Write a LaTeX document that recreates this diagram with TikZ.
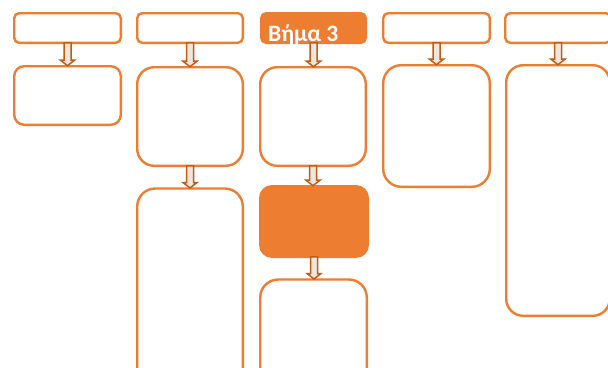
\documentclass[tikz,border=0pt]{standalone}
\usepackage{fontspec}
\newfontfamily\carlito{Carlito}
\usetikzlibrary{calc}
\definecolor{orng}{HTML}{ED7D31}
\definecolor{darko}{HTML}{C55A11}
\definecolor{shaftin}{HTML}{EDE6E1}
\tikzset{
  bx/.style={draw=orng, line width=2.4pt, fill=white, inner sep=0pt, outer sep=0pt},
  filledbx/.style={draw=orng, line width=2.4pt, fill=orng, inner sep=0pt, outer sep=0pt},
  arr/.style={draw=darko, line width=1.5pt, fill=shaftin, line join=miter},
}
\newcommand\dnarrow[2]{%
  \draw[arr] let \p1=(#1.south), \p2=(#2.north) in
    ({\x1-3.5pt},{\y1}) -- ({\x1+3.5pt},{\y1}) -- ({\x1+3.5pt},{\y2+6pt}) -- ({\x1+7pt},{\y2+6pt})
    -- ({\x1},{\y2+0.5pt}) -- ({\x1-7pt},{\y2+6pt}) -- ({\x1-3.5pt},{\y2+6pt}) -- cycle;}
\begin{document}
\begin{tikzpicture}[x=1pt,y=-1pt]
\useasboundingbox (0,0) rectangle (608,367);
\clip (0,0) rectangle (608,367);
% top row
\node[bx, rounded corners=5pt, minimum width=106.6pt, minimum height=29.6pt] (t1) at (67.5,28) {};
\node[bx, rounded corners=5pt, minimum width=105.6pt, minimum height=29.6pt] (t2) at (190,28) {};
\node[filledbx, rounded corners=5pt, minimum width=104.6pt, minimum height=29.6pt] (t3) at (313.5,28) {};
\node[bx, rounded corners=5pt, minimum width=106.6pt, minimum height=29.6pt] (t4) at (436.5,28) {};
\node[bx, rounded corners=5pt, minimum width=105.6pt, minimum height=29.6pt] (t5) at (558,28) {};
\node[anchor=base west, inner sep=0pt, text=white, font=\carlito\bfseries\fontsize{23.5}{23.5}\selectfont] (lbl) at (268,41) {Βήμα 3};
% column 1
\node[bx, rounded corners=10pt, minimum width=106.6pt, minimum height=58.6pt] (b1) at (67.5,95.5) {};
% column 2
\node[bx, rounded corners=17pt, minimum width=105.6pt, minimum height=98.6pt] (b2) at (190,116.5) {};
\node[bx, rounded corners=18pt, minimum width=105.6pt, minimum height=230pt] (c2) at (190,303.5) {};
% column 3
\node[bx, rounded corners=17pt, minimum width=105.6pt, minimum height=98.6pt] (b3) at (313,116.5) {};
\node[filledbx, rounded corners=12pt, minimum width=107.6pt, minimum height=70.6pt] (c3) at (314,221.5) {};
\node[bx, rounded corners=18pt, minimum width=106.6pt, minimum height=140pt] (d3) at (313.5,349.5) {};
% column 4
\node[bx, rounded corners=18pt, minimum width=106.6pt, minimum height=121.6pt] (b4) at (436.5,126) {};
% column 5
\node[bx, rounded corners=17pt, minimum width=103.6pt, minimum height=250.6pt] (b5) at (558,190.5) {};
% arrows
\dnarrow{t1}{b1}
\dnarrow{t2}{b2}
\dnarrow{b2}{c2}
\dnarrow{t3}{b3}
\dnarrow{b3}{c3}
\dnarrow{c3}{d3}
\dnarrow{t4}{b4}
\dnarrow{t5}{b5}
\end{tikzpicture}
\end{document}
